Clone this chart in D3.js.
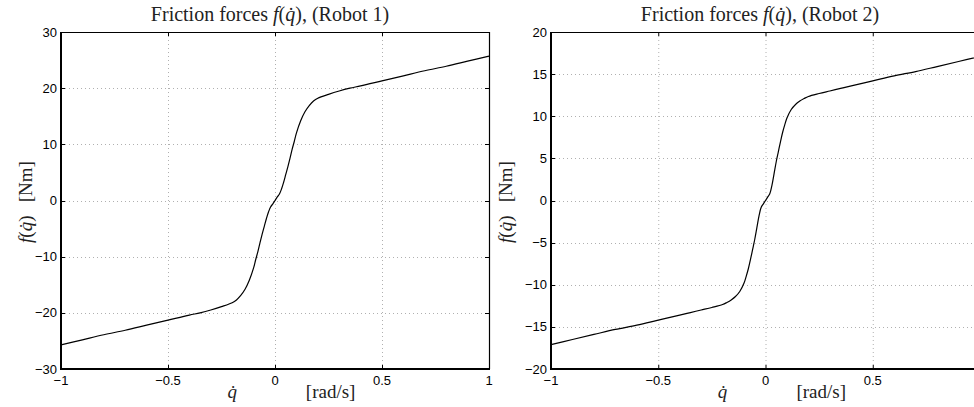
<!DOCTYPE html>
<html><head><meta charset="utf-8">
<script src="https://cdn.jsdelivr.net/npm/d3@7"></script>
<style>
html,body{margin:0;padding:0;background:#fff;}
svg{display:block;}
</style></head>
<body>
<svg id="chart" width="974" height="407"></svg>
<script>
// ---- data ----
const qdot = [-1.00,-0.90,-0.80,-0.70,-0.60,-0.50,-0.40,-0.35,-0.30,-0.25,-0.20,-0.18,-0.16,-0.14,-0.12,-0.10,-0.09,-0.08,-0.07,-0.06,-0.05,-0.04,-0.03,-0.02,-0.01,0.00,
               0.01,0.02,0.03,0.04,0.05,0.06,0.07,0.08,0.09,0.10,0.12,0.14,0.16,0.18,0.20,0.25,0.30,0.35,0.40,0.50,0.60,0.70,0.80,0.90,1.00];
const friction1 = [-25.7,-24.8,-23.9,-23.1,-22.2,-21.3,-20.4,-20.0,-19.5,-18.9,-18.2,-17.7,-16.9,-15.8,-14.2,-12.0,-10.5,-9.1,-7.5,-6.0,-4.6,-3.2,-2.0,-1.1,-0.6,0.0,
                   0.6,1.1,2.0,3.2,4.6,6.0,7.5,9.1,10.5,12.0,14.2,15.8,16.9,17.7,18.2,18.9,19.5,20.0,20.4,21.3,22.2,23.1,23.9,24.8,25.7];
const friction2 = [-17.1,-16.5,-15.9,-15.3,-14.8,-14.2,-13.6,-13.3,-13.0,-12.7,-12.35,-12.1,-11.8,-11.4,-10.8,-9.8,-9.0,-8.1,-7.0,-5.8,-4.6,-3.2,-1.8,-0.8,-0.4,0.0,
                   0.4,0.8,1.8,3.2,4.6,5.8,7.0,8.1,9.0,9.8,10.8,11.4,11.8,12.1,12.35,12.7,13.0,13.3,13.6,14.2,14.8,15.3,15.9,16.5,17.1];
const xTicks = [-1,-0.5,0,0.5,1];
const yTicks1 = [-30,-20,-10,0,10,20,30];
const yTicks2 = [-20,-15,-10,-5,0,5,10,15,20];
const titles = ["Robot 1","Robot 2"];

const W = 974;
const svg = d3.select("#chart");
const fmt = v => (v < 0 ? "\u2212" : "") + String(Math.abs(v));

const panels = [
  {x0:61, x1:489, y0:32, y1:369, ydom:[-30,30], yt:yTicks1, data:friction1, title:titles[0], tx:270, ylx:27},
  {x0:551, x1:980, y0:32, y1:369, ydom:[-20,20], yt:yTicks2, data:friction2, title:titles[1], tx:760, ylx:507}
];

panels.forEach(p => {
  const x = d3.scaleLinear().domain([-1,1]).range([p.x0,p.x1]);
  const y = d3.scaleLinear().domain(p.ydom).range([p.y1,p.y0]);
  const g = svg.append("g");

  // grid
  g.selectAll(".gx").data(xTicks.slice(1,-1)).enter().append("line")
    .attr("x1",d=>x(d)+0.5).attr("x2",d=>x(d)+0.5).attr("y1",p.y0).attr("y2",p.y1)
    .attr("stroke","#b0b0b0").attr("stroke-width",1).attr("stroke-dasharray","1,3");
  g.selectAll(".gy").data(p.yt.slice(1,-1)).enter().append("line")
    .attr("y1",d=>Math.round(y(d))+0.5).attr("y2",d=>Math.round(y(d))+0.5).attr("x1",p.x0).attr("x2",p.x1)
    .attr("stroke","#b0b0b0").attr("stroke-width",1).attr("stroke-dasharray","1,3");

  // ticks (inward)
  const tl = 4;
  xTicks.forEach(d => {
    g.append("line").attr("x1",x(d)+0.5).attr("x2",x(d)+0.5).attr("y1",p.y1).attr("y2",p.y1-tl).attr("stroke","#000");
    g.append("line").attr("x1",x(d)+0.5).attr("x2",x(d)+0.5).attr("y1",p.y0).attr("y2",p.y0+tl).attr("stroke","#000");
  });
  p.yt.forEach(d => {
    const yy = Math.round(y(d))+0.5;
    g.append("line").attr("x1",p.x0).attr("x2",p.x0+tl).attr("y1",yy).attr("y2",yy).attr("stroke","#000");
    g.append("line").attr("x1",p.x1).attr("x2",p.x1-tl).attr("y1",yy).attr("y2",yy).attr("stroke","#000");
  });

  // curve
  const line = d3.line().x((d,i)=>x(qdot[i])).y(d=>y(d)).curve(d3.curveCatmullRom.alpha(0.5));
  g.append("path").datum(p.data).attr("d",line)
    .attr("fill","none").attr("stroke","#000").attr("stroke-width",1.2);

  // box
  g.append("line").attr("x1",p.x0).attr("x2",p.x1).attr("y1",p.y0+0.5).attr("y2",p.y0+0.5).attr("stroke","#000").attr("stroke-width",1.2);
  g.append("line").attr("x1",p.x1+0.5).attr("x2",p.x1+0.5).attr("y1",p.y0).attr("y2",p.y1).attr("stroke","#000").attr("stroke-width",1.2);
  g.append("line").attr("x1",p.x0).attr("x2",p.x0).attr("y1",p.y0).attr("y2",p.y1+1).attr("stroke","#000").attr("stroke-width",2);
  g.append("line").attr("x1",p.x0-1).attr("x2",p.x1+1).attr("y1",p.y1).attr("y2",p.y1).attr("stroke","#000").attr("stroke-width",2);

  // tick labels (only those inside the window)
  g.selectAll(".xl").data(xTicks.filter(d => x(d) < W - 6)).enter().append("text")
    .attr("x",d=>x(d)).attr("y",p.y1+16).attr("text-anchor","middle")
    .attr("font-family","Liberation Sans, Arial, sans-serif").attr("font-size",13)
    .text(fmt);
  g.selectAll(".yl").data(p.yt).enter().append("text")
    .attr("x",p.x0-4).attr("y",d=>y(d)+4.5).attr("text-anchor","end")
    .attr("font-family","Liberation Sans, Arial, sans-serif").attr("font-size",13)
    .text(fmt);

  const serif = "Liberation Serif, Times New Roman, serif";
  // title
  const t = g.append("text").attr("x",p.tx).attr("y",21).attr("text-anchor","middle")
    .attr("font-family",serif).attr("font-size",20).attr("fill","#222");
  t.append("tspan").text("Friction forces ");
  t.append("tspan").attr("font-style","italic").text("f");
  t.append("tspan").text("(");
  t.append("tspan").attr("font-style","italic").text("q\u0307");
  t.append("tspan").text("), (" + p.title + ")");

  // x label
  g.append("text").attr("x",x(-0.2)).attr("y",398).attr("text-anchor","middle")
    .attr("font-family",serif).attr("font-size",19).attr("font-style","italic").attr("fill","#222").text("q\u0307");
  g.append("text").attr("x",x(0.26)).attr("y",398).attr("text-anchor","middle")
    .attr("font-family",serif).attr("font-size",19).attr("fill","#222").text("[rad/s]");

  // y label
  const yl = g.append("text").attr("transform",`translate(${p.ylx+5},202) rotate(-90)`).attr("text-anchor","middle")
    .attr("font-family",serif).attr("font-size",19).attr("fill","#222");
  yl.append("tspan").attr("font-style","italic").text("f");
  yl.append("tspan").text("(");
  yl.append("tspan").attr("font-style","italic").text("q\u0307");
  yl.append("tspan").text(")\u2002\u2009[Nm]");
});
</script>
</body></html>
